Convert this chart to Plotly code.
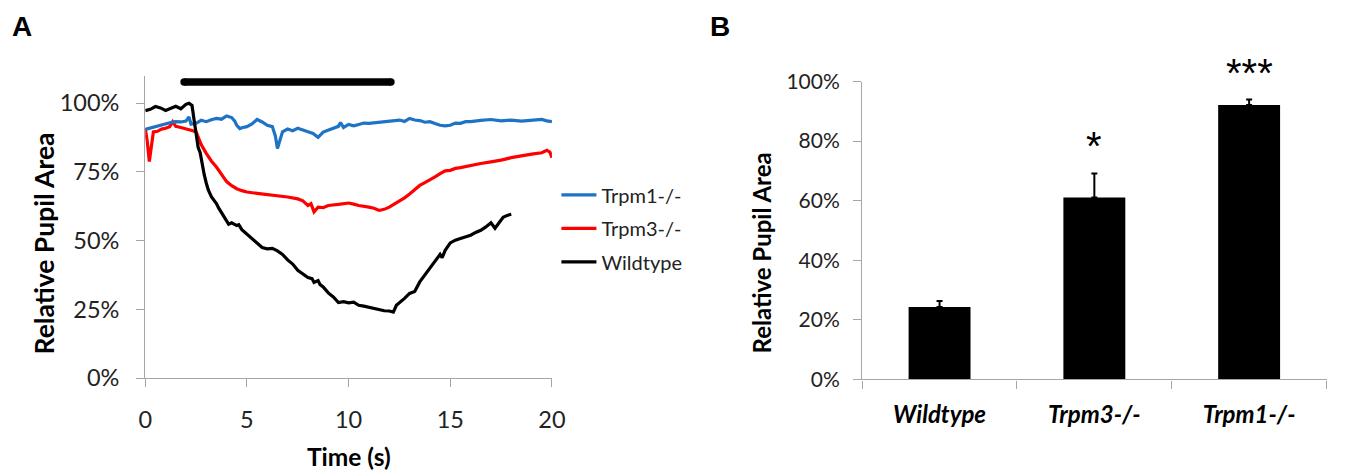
import plotly.graph_objects as go

# ---------------- Panel A data (time in s, relative pupil area in %) ----------------
wt_t = [0, 0.25, 0.5, 0.75, 1.0, 1.25, 1.5, 1.75, 2.0, 2.15, 2.3, 2.4, 2.5, 2.6, 2.7, 2.8, 2.9, 3.0,
        3.1, 3.25, 3.5, 3.6, 3.75, 3.9, 4.0, 4.1, 4.25, 4.5, 4.6, 4.75, 5.0, 5.25, 5.5, 5.75, 6.0,
        6.25, 6.5, 6.75, 7.0, 7.25, 7.5, 7.75, 8.0, 8.2, 8.3, 8.5, 8.6, 8.75, 9.0, 9.25, 9.5, 9.75,
        10.0, 10.25, 10.5, 10.75, 11.0, 11.25, 11.5, 11.75, 12.0, 12.2, 12.35, 12.5, 12.75, 13.0,
        13.25, 13.5, 13.75, 14.0, 14.25, 14.5, 14.6, 14.75, 15.0, 15.25, 15.5, 15.75, 16.0, 16.25,
        16.5, 16.75, 17.0, 17.2, 17.4, 17.6, 17.8, 18.0]
wt_v = [97.3, 97.8, 98.8, 98.3, 97.4, 98.2, 98.9, 98.0, 99.6, 100.0, 99.2, 94.0, 89.0, 84.0, 82.0,
        77.0, 74.0, 71.0, 68.5, 66.0, 63.5, 62.0, 60.0, 58.5, 57.2, 56.0, 56.5, 55.5, 55.8, 54.0,
        52.4, 50.5, 49.0, 47.5, 47.0, 47.2, 46.3, 45.0, 43.0, 41.5, 39.2, 38.0, 36.6, 36.2, 34.8,
        35.5, 34.0, 33.2, 31.0, 29.5, 27.5, 27.8, 27.4, 27.6, 26.5, 26.2, 25.8, 25.3, 24.7, 24.5,
        24.4, 24.0, 26.5, 27.4, 29.0, 30.8, 31.5, 35.0, 37.5, 40.2, 42.5, 45.0, 43.8, 46.5, 49.2,
        50.2, 50.8, 51.3, 52.0, 53.0, 53.8, 55.0, 56.5, 54.5, 56.5, 58.5, 59.2, 59.6]

m3_t = [0, 0.1, 0.2, 0.3, 0.4, 0.6, 0.8, 1.0, 1.2, 1.35, 1.5, 1.75, 2.0, 2.25, 2.5, 2.6, 2.75, 3.0,
        3.25, 3.5, 3.75, 4.0, 4.25, 4.5, 4.75, 5.0, 5.5, 6.0, 6.5, 7.0, 7.5, 7.75, 8.0, 8.15, 8.3,
        8.5, 8.75, 9.0, 9.5, 10.0, 10.25, 10.5, 11.0, 11.25, 11.5, 11.75, 12.0, 12.25, 12.5, 12.75,
        13.0, 13.25, 13.5, 13.75, 14.0, 14.25, 14.5, 14.75, 15.0, 15.25, 15.5, 15.75, 16.0, 16.5,
        17.0, 17.5, 18.0, 18.5, 19.0, 19.5, 19.75, 19.9, 20.0]
m3_v = [90.9, 86.0, 78.8, 85.0, 89.6, 89.8, 90.6, 90.9, 91.5, 93.3, 91.6, 91.2, 90.8, 90.2, 89.6,
        87.5, 85.0, 81.8, 79.0, 76.8, 74.0, 71.5, 70.0, 68.9, 68.2, 67.7, 67.2, 66.8, 66.2, 65.9,
        65.2, 64.5, 62.8, 63.5, 60.5, 62.2, 62.0, 62.8, 63.2, 63.7, 63.3, 62.8, 62.2, 61.8, 61.0,
        61.4, 62.2, 63.3, 64.6, 65.6, 67.0, 68.6, 70.1, 71.1, 72.0, 73.2, 74.4, 75.4, 75.6, 76.3,
        76.6, 77.0, 77.4, 78.1, 78.7, 79.3, 80.2, 80.9, 81.5, 82.0, 82.9, 82.2, 80.2]

m1_t = [0, 0.25, 0.5, 0.75, 1.0, 1.25, 1.5, 1.75, 2.0, 2.15, 2.25, 2.5, 2.75, 3.0, 3.25, 3.5, 3.75,
        4.0, 4.25, 4.4, 4.5, 4.65, 4.8, 5.0, 5.25, 5.5, 5.75, 6.0, 6.25, 6.4, 6.5, 6.6, 6.75, 7.0,
        7.25, 7.5, 7.75, 8.0, 8.25, 8.5, 8.75, 9.0, 9.25, 9.5, 9.6, 9.75, 10.0, 10.25, 10.5, 10.75,
        11.0, 11.5, 12.0, 12.5, 12.75, 13.0, 13.25, 13.5, 13.75, 14.0, 14.25, 14.5, 14.75, 15.0,
        15.25, 15.5, 15.75, 16.0, 16.5, 17.0, 17.5, 18.0, 18.5, 19.0, 19.5, 19.75, 20.0]
m1_v = [90.5, 91.0, 91.5, 92.1, 92.7, 93.0, 93.3, 93.2, 93.5, 95.0, 92.4, 92.7, 93.8, 93.3, 94.0,
        94.5, 94.2, 95.4, 94.8, 93.5, 92.0, 90.8, 91.2, 91.5, 92.5, 94.1, 93.2, 92.0, 91.5, 88.0,
        83.5, 86.0, 89.6, 90.6, 90.0, 90.9, 90.1, 89.6, 89.0, 87.6, 89.5, 90.2, 90.8, 91.6, 93.0,
        91.2, 92.3, 91.8, 92.3, 92.8, 92.7, 93.1, 93.3, 93.9, 93.4, 94.5, 93.9, 93.7, 93.1, 93.3,
        92.6, 92.0, 91.8, 92.0, 92.8, 92.7, 93.3, 93.3, 93.8, 94.1, 93.6, 93.9, 93.5, 93.7, 94.1,
        93.6, 93.3]

stim_t = [1.91, 12.08]          # light stimulus bar (s)
stim_level = [1.077, 1.077]

# ---------------- Panel B data ----------------
groups = ["Wildtype", "Trpm3-/-", "Trpm1-/-"]
group_mean = [0.243, 0.611, 0.921]
group_err = [0.020, 0.080, 0.019]
star_text = ["*", "***"]
star_group = ["Trpm3-/-", "Trpm1-/-"]
star_y = [0.80, 1.047]

FONT = "Lato"
AX = "#A6A6A6"

fig = go.Figure()


def pct(v):
    return [x / 100.0 for x in v]


fig.add_trace(go.Scatter(x=m3_t, y=pct(m3_v), mode="lines", name="Trpm3-/-",
                         line=dict(color="#FF0000", width=3.2), legendrank=2, legendgroup="b",
                         xaxis="x", yaxis="y"))
fig.add_trace(go.Scatter(x=m1_t, y=pct(m1_v), mode="lines", name="Trpm1-/-",
                         line=dict(color="#1F73C4", width=3.2), legendrank=1, legendgroup="a",
                         xaxis="x", yaxis="y"))
fig.add_trace(go.Scatter(x=wt_t, y=pct(wt_v), mode="lines", name="Wildtype",
                         line=dict(color="#000000", width=3.2), legendrank=3, legendgroup="c",
                         xaxis="x", yaxis="y"))
fig.add_trace(go.Scatter(x=stim_t, y=stim_level, mode="lines+markers", showlegend=False,
                         line=dict(color="#000000", width=7.5),
                         marker=dict(color="#000000", size=7.5),
                         cliponaxis=False, xaxis="x", yaxis="y"))

fig.add_trace(go.Bar(x=groups, y=group_mean, marker=dict(color="#000000", line=dict(width=0)),
                     error_y=dict(type="data", symmetric=False, array=group_err,
                                  arrayminus=[0, 0, 0], color="#000000", thickness=2, width=3),
                     showlegend=False, xaxis="x2", yaxis="y2"))

# figure size and the empirically observed placement of the figure in the snapshot
W, H = 1345, 500
OX, OY, SX, SY = 14.0, 22.5, 0.99, 0.941


def fx(X):
    return (X - OX) / SX / W


def fy(Y):
    return 1 - (Y - OY) / SY / H


common_tick = dict(ticks="outside", ticklen=8, tickcolor=AX, tickwidth=1.3,
                   showline=True, linecolor=AX, linewidth=1.3, showgrid=False,
                   zeroline=False)

annots = [
    dict(text="A", x=fx(21), y=fy(26.5), xref="paper", yref="paper", showarrow=False,
         xanchor="center", yanchor="middle",
         font=dict(family="Liberation Sans", size=28, weight="bold", color="#000000")),
    dict(text="B", x=fx(723), y=fy(26.5), xref="paper", yref="paper", showarrow=False,
         xanchor="center", yanchor="middle",
         font=dict(family="Liberation Sans", size=28, weight="bold", color="#000000")),
    dict(text="Relative Pupil Area", x=fx(43), y=fy(243), xref="paper", yref="paper",
         showarrow=False, textangle=-90, xanchor="center", yanchor="middle",
         font=dict(size=26.5, weight="bold", color="#000000")),
    dict(text="Time (s)", x=fx(350), y=fy(455), xref="paper", yref="paper",
         showarrow=False, xanchor="center", yanchor="middle",
         font=dict(size=24.5, weight="bold", color="#000000")),
    dict(text="Relative Pupil Area", x=fx(765), y=fy(252), xref="paper", yref="paper",
         showarrow=False, textangle=-90, xanchor="center", yanchor="middle",
         font=dict(size=24, weight="bold", color="#000000")),
]
for g, s, yv in zip(star_group, star_text, star_y):
    annots.append(dict(text=s, x=g, y=yv, xref="x2", yref="y2 domain", showarrow=False,
                       xanchor="center", yanchor="middle", yshift=-5,
                       font=dict(family="Liberation Sans", size=40, color="#000000")))

fig.update_layout(
    width=W, height=H, margin=dict(l=0, r=0, t=0, b=0),
    plot_bgcolor="white", paper_bgcolor="white",
    font=dict(family=FONT, color="#222222"),
    bargap=0.6,
    xaxis=dict(domain=[fx(145), fx(554)], range=[0, 20], dtick=5, anchor="y",
               tickfont=dict(size=23.5), ticklabelstandoff=13, **common_tick),
    yaxis=dict(domain=[fy(376.7), fy(76)], range=[0, 1.1], tickvals=[0, 0.25, 0.5, 0.75, 1.0],
               tickformat=".0%", anchor="x", tickfont=dict(size=23.5), ticklabelstandoff=12,
               **common_tick),
    xaxis2=dict(domain=[fx(866), fx(1333)], anchor="y2", tickson="boundaries",
                tickfont=dict(size=24, weight="bold", style="italic", color="#000000"),
                ticklabelstandoff=14, **common_tick),
    yaxis2=dict(domain=[fy(378), fy(81.7)], range=[0, 1.0], dtick=0.2, tickformat=".0%",
                anchor="x2", tickfont=dict(size=21), ticklabelstandoff=9, **common_tick),
    legend=dict(x=fx(558.5), y=fy(175), xanchor="left", yanchor="top",
                font=dict(size=20, color="#222222"), bgcolor="rgba(0,0,0,0)",
                tracegroupgap=4.5, traceorder="grouped", itemwidth=35),
    annotations=annots,
)

fig.write_html("out.html")
